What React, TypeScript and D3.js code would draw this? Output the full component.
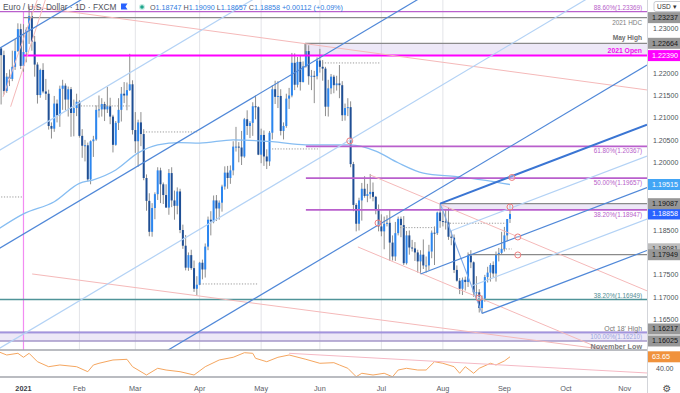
import React, { useRef, useEffect } from "react";
import * as d3 from "d3";

// EUR/USD daily candles (FXCM), [open, high, low, close]
type Candle = [number, number, number, number];

const dec2020: Candle[] = [
  [1.2196, 1.2273, 1.2190, 1.2266], [1.2266, 1.2272, 1.2223, 1.2255], [1.2255, 1.2257, 1.2130, 1.2240],
  [1.2240, 1.2250, 1.2152, 1.2160], [1.2160, 1.2200, 1.2156, 1.2192], [1.2192, 1.2208, 1.2171, 1.2187],
  [1.2187, 1.2250, 1.2182, 1.2214], [1.2214, 1.2276, 1.2207, 1.2249], [1.2249, 1.2311, 1.2247, 1.2298],
  [1.2298, 1.2310, 1.2209, 1.2216],
];
const jan2021: Candle[] = [
  [1.2216, 1.2309, 1.2203, 1.2247], [1.2247, 1.2302, 1.2224, 1.2297], [1.2297, 1.2349, 1.2265, 1.2327],
  [1.2327, 1.2338, 1.2250, 1.2270], [1.2270, 1.2283, 1.2192, 1.2219], [1.2219, 1.2224, 1.2132, 1.2151],
  [1.2151, 1.2210, 1.2145, 1.2207], [1.2207, 1.2222, 1.2155, 1.2159], [1.2159, 1.2187, 1.2140, 1.2154],
  [1.2154, 1.2163, 1.2074, 1.2082], [1.2082, 1.2090, 1.2054, 1.2076], [1.2076, 1.2149, 1.2069, 1.2132],
  [1.2132, 1.2141, 1.2090, 1.2106], [1.2106, 1.2172, 1.2080, 1.2165], [1.2165, 1.2185, 1.2118, 1.2172],
  [1.2172, 1.2177, 1.2117, 1.2141], [1.2141, 1.2170, 1.2103, 1.2164], [1.2164, 1.2169, 1.2058, 1.2111],
  [1.2111, 1.2141, 1.2059, 1.2122], [1.2122, 1.2154, 1.2104, 1.2136],
];
const feb2021: Candle[] = [
  [1.2136, 1.2140, 1.2056, 1.2060], [1.2060, 1.2075, 1.2011, 1.2038], [1.2038, 1.2051, 1.2003, 1.2039],
  [1.2039, 1.2045, 1.1958, 1.1963], [1.1963, 1.2050, 1.1952, 1.2048], [1.2048, 1.2060, 1.2013, 1.2052],
  [1.2052, 1.2128, 1.2049, 1.2118], [1.2118, 1.2150, 1.2101, 1.2119], [1.2119, 1.2144, 1.2103, 1.2131],
  [1.2131, 1.2136, 1.2093, 1.2119], [1.2119, 1.2169, 1.2111, 1.2126], [1.2126, 1.2145, 1.2086, 1.2103],
  [1.2103, 1.2107, 1.2023, 1.2040], [1.2040, 1.2093, 1.2038, 1.2089], [1.2089, 1.2144, 1.2073, 1.2118],
  [1.2118, 1.2169, 1.2092, 1.2154], [1.2154, 1.2180, 1.2133, 1.2150], [1.2150, 1.2179, 1.2117, 1.2162],
  [1.2162, 1.2243, 1.2160, 1.2175], [1.2175, 1.2184, 1.2063, 1.2073],
];
const mar2021: Candle[] = [
  [1.2073, 1.2113, 1.2022, 1.2048], [1.2048, 1.2096, 1.1991, 1.2090], [1.2090, 1.2113, 1.2037, 1.2064],
  [1.2064, 1.2075, 1.1961, 1.1966], [1.1966, 1.1974, 1.1893, 1.1915], [1.1915, 1.1932, 1.1836, 1.1846],
  [1.1846, 1.1910, 1.1835, 1.1899], [1.1899, 1.1934, 1.1874, 1.1930], [1.1930, 1.1990, 1.1917, 1.1983],
  [1.1983, 1.1989, 1.1910, 1.1952], [1.1952, 1.1956, 1.1908, 1.1928], [1.1928, 1.1952, 1.1900, 1.1900],
  [1.1900, 1.1986, 1.1884, 1.1977], [1.1977, 1.1990, 1.1901, 1.1916], [1.1916, 1.1938, 1.1873, 1.1904],
  [1.1904, 1.1945, 1.1885, 1.1936], [1.1936, 1.1942, 1.1843, 1.1850], [1.1850, 1.1862, 1.1808, 1.1815],
  [1.1815, 1.1839, 1.1760, 1.1766], [1.1766, 1.1800, 1.1759, 1.1794], [1.1794, 1.1806, 1.1761, 1.1765],
  [1.1765, 1.1782, 1.1712, 1.1719], [1.1719, 1.1747, 1.1704, 1.1728],
];
const apr2021: Candle[] = [
  [1.1728, 1.1779, 1.1727, 1.1777], [1.1777, 1.1784, 1.1740, 1.1762], [1.1762, 1.1820, 1.1744, 1.1813],
  [1.1813, 1.1880, 1.1805, 1.1873], [1.1873, 1.1892, 1.1838, 1.1869], [1.1869, 1.1927, 1.1865, 1.1916],
  [1.1916, 1.1928, 1.1870, 1.1898], [1.1898, 1.1916, 1.1873, 1.1911], [1.1911, 1.1951, 1.1891, 1.1947],
  [1.1947, 1.1992, 1.1940, 1.1978], [1.1978, 1.1993, 1.1942, 1.1966], [1.1966, 1.1994, 1.1953, 1.1983],
  [1.1983, 1.2048, 1.1972, 1.2036], [1.2036, 1.2080, 1.2025, 1.2036], [1.2036, 1.2046, 1.2001, 1.2034],
  [1.2034, 1.2071, 1.1995, 1.2014], [1.2014, 1.2100, 1.2011, 1.2097], [1.2097, 1.2117, 1.2062, 1.2082],
  [1.2082, 1.2093, 1.2055, 1.2089], [1.2089, 1.2135, 1.2060, 1.2126], [1.2126, 1.2150, 1.2097, 1.2124],
  [1.2124, 1.2126, 1.2017, 1.2018],
];
const may2021: Candle[] = [
  [1.2018, 1.2076, 1.1999, 1.2062], [1.2062, 1.2072, 1.1993, 1.2014], [1.2014, 1.2030, 1.1986, 1.2003],
  [1.2003, 1.2071, 1.1993, 1.2067], [1.2067, 1.2173, 1.2052, 1.2164], [1.2164, 1.2183, 1.2131, 1.2147],
  [1.2147, 1.2182, 1.2122, 1.2149], [1.2149, 1.2164, 1.2061, 1.2071], [1.2071, 1.2090, 1.2052, 1.2082],
  [1.2082, 1.2154, 1.2078, 1.2143], [1.2143, 1.2167, 1.2120, 1.2150], [1.2150, 1.2245, 1.2146, 1.2223],
  [1.2223, 1.2244, 1.2162, 1.2174], [1.2174, 1.2236, 1.2168, 1.2225], [1.2225, 1.2238, 1.2161, 1.2180],
  [1.2180, 1.2226, 1.2179, 1.2215], [1.2215, 1.2266, 1.2212, 1.2249], [1.2249, 1.2262, 1.2174, 1.2193],
  [1.2193, 1.2207, 1.2162, 1.2194], [1.2194, 1.2205, 1.2133, 1.2193], [1.2193, 1.2235, 1.2186, 1.2228],
];
const jun2021: Candle[] = [
  [1.2228, 1.2254, 1.2201, 1.2214], [1.2214, 1.2229, 1.2183, 1.2210], [1.2210, 1.2214, 1.2104, 1.2125],
  [1.2125, 1.2185, 1.2103, 1.2166], [1.2166, 1.2198, 1.2153, 1.2192], [1.2192, 1.2196, 1.2155, 1.2173],
  [1.2173, 1.2194, 1.2161, 1.2177], [1.2177, 1.2218, 1.2144, 1.2173], [1.2173, 1.2182, 1.2093, 1.2106],
  [1.2106, 1.2132, 1.2094, 1.2122], [1.2122, 1.2144, 1.2104, 1.2124], [1.2124, 1.2137, 1.1990, 1.1997],
  [1.1997, 1.2002, 1.1892, 1.1906], [1.1906, 1.1910, 1.1847, 1.1864], [1.1864, 1.1922, 1.1849, 1.1916],
  [1.1916, 1.1955, 1.1871, 1.1942], [1.1942, 1.1970, 1.1922, 1.1926], [1.1926, 1.1953, 1.1912, 1.1930],
  [1.1930, 1.1975, 1.1920, 1.1935], [1.1935, 1.1956, 1.1914, 1.1924], [1.1924, 1.1926, 1.1885, 1.1895],
  [1.1895, 1.1907, 1.1847, 1.1858],
];
const jul2021: Candle[] = [
  [1.1858, 1.1885, 1.1836, 1.1847], [1.1847, 1.1880, 1.1807, 1.1864], [1.1864, 1.1883, 1.1858, 1.1866],
  [1.1866, 1.1895, 1.1781, 1.1822], [1.1822, 1.1838, 1.1782, 1.1791], [1.1791, 1.1868, 1.1781, 1.1843],
  [1.1843, 1.1880, 1.1838, 1.1875], [1.1875, 1.1880, 1.1834, 1.1861], [1.1861, 1.1881, 1.1772, 1.1776],
  [1.1776, 1.1848, 1.1773, 1.1838], [1.1838, 1.1849, 1.1795, 1.1811], [1.1811, 1.1828, 1.1802, 1.1809],
  [1.1809, 1.1823, 1.1781, 1.1800], [1.1800, 1.1806, 1.1755, 1.1780], [1.1780, 1.1805, 1.1752, 1.1795],
  [1.1795, 1.1829, 1.1763, 1.1771], [1.1771, 1.1791, 1.1755, 1.1771], [1.1771, 1.1817, 1.1760, 1.1802],
  [1.1802, 1.1849, 1.1787, 1.1844], [1.1844, 1.1858, 1.1772, 1.1843], [1.1843, 1.1891, 1.1839, 1.1889],
  [1.1889, 1.1909, 1.1855, 1.1870],
];
const aug2021: Candle[] = [
  [1.1870, 1.1892, 1.1858, 1.1869], [1.1869, 1.1896, 1.1851, 1.1867], [1.1867, 1.1900, 1.1828, 1.1835],
  [1.1835, 1.1849, 1.1816, 1.1833], [1.1833, 1.1840, 1.1754, 1.1761], [1.1761, 1.1771, 1.1735, 1.1737],
  [1.1737, 1.1743, 1.1707, 1.1719], [1.1719, 1.1744, 1.1705, 1.1739], [1.1739, 1.1746, 1.1715, 1.1734],
  [1.1734, 1.1800, 1.1723, 1.1793], [1.1793, 1.1805, 1.1765, 1.1778], [1.1778, 1.1780, 1.1701, 1.1711],
  [1.1711, 1.1747, 1.1695, 1.1711], [1.1711, 1.1718, 1.1666, 1.1676], [1.1676, 1.1704, 1.1664, 1.1697],
  [1.1697, 1.1750, 1.1690, 1.1745], [1.1745, 1.1768, 1.1733, 1.1755], [1.1755, 1.1776, 1.1735, 1.1772],
  [1.1772, 1.1780, 1.1745, 1.1753], [1.1753, 1.1802, 1.1735, 1.1795], [1.1795, 1.1810, 1.1780, 1.1799],
  [1.1799, 1.1846, 1.1796, 1.1808],
];
const sep2021: Candle[] = [
  [1.1808, 1.1857, 1.1802, 1.1838], [1.1838, 1.1873, 1.1825, 1.18746], [1.18747, 1.1909, 1.18657, 1.18858],
];

// 100-day moving average, [bar, price] (bar 0 = 4 Jan 2021)
const ma100: [number, number][] = [
  [-9, 1.1852], [0, 1.1886], [11, 1.1913], [20, 1.1954], [25, 1.1962], [33, 1.1984], [41, 1.2022],
  [48, 1.2040], [56, 1.2045], [63, 1.2044], [75, 1.2051], [89, 1.2047], [101, 1.2040], [117, 1.2040],
  [126, 1.2026], [134, 1.2000], [143, 1.1977], [155, 1.1969], [164, 1.1962], [174, 1.19515],
];

// RSI(14), [bar, value]
const rsi: [number, number][] = [
  [-9, 73.7], [-6, 67.2], [-2, 70.5], [0, 62.7], [2, 70.5], [5, 54.0], [9, 44.2], [13, 47.6], [19, 44.2],
  [23, 34.4], [25, 47.6], [27, 50.9], [32, 57.4], [37, 58.7], [39, 44.2], [44, 27.9], [48, 41.1], [51, 37.7],
  [56, 34.4], [61, 27.9], [65, 44.2], [70, 57.4], [75, 62.7], [79, 71.7], [82, 70.5], [83, 60.7], [87, 54.0],
  [91, 62.7], [95, 67.2], [101, 58.7], [106, 50.9], [111, 52.1], [113, 47.6], [116, 41.1], [119, 24.6],
  [121, 31.3], [125, 27.9], [129, 31.3], [132, 24.4], [134, 37.7], [137, 41.1], [141, 37.7], [144, 37.7],
  [147, 54.0], [150, 50.9], [154, 44.2], [156, 31.3], [158, 44.2], [161, 31.3], [163, 41.1], [167, 50.9],
  [169, 47.6], [172, 55.5], [174, 63.65],
];
const rsiTrend: [number, number][] = [[95, 70.5], [223, 31.9]];

const monthLabels = ["2021", "Feb", "Mar", "Apr", "May", "Jun", "Jul", "Aug", "Sep", "Oct", "Nov"];
const monthStartBar = [0, 20, 40, 63, 85, 106, 128, 150, 172, 194, 215];

const fibLevels = [
  { label: "88.60%(1.23369)", price: 1.23369, fromBar: -9 },
  { label: "61.80%(1.20367)", price: 1.20367, fromBar: 101 },
  { label: "50.00%(1.19657)", price: 1.19657, fromBar: 101 },
  { label: "38.20%(1.18947)", price: 1.18947, fromBar: 101 },
];
const fibLow = { label: "38.20%(1.16949)", price: 1.16949 };
const fibFull = { label: "100.00%(1.16210)", price: 1.1621 };

const grayLevels = [
  { label: "2021 HDC", price: 1.23237, fromBar: 0 },
  { label: "May High", price: 1.22664, fromBar: 100.7 },
  { label: "", price: 1.19087, fromBar: 149 },
  { label: "", price: 1.17949, fromBar: 159 },
];
const yearOpen = { label: "2021 Open", price: 1.2239, fromBar: 0 };
const octHigh = { label: "Oct 18' High", price: 1.16217 };
const novLow = { label: "November Low", price: 1.16025 };

// shaded zones: [fromBar, top, bottom]
const zones: [number, number, number][] = [
  [100.7, 1.22664, 1.2239],
  [149, 1.19087, 1.18947],
  [-9, 1.16217, 1.16025],
];

// dotted previous-close markers: [fromBar, toBar, price]
const dottedLevels: [number, number, number][] = [
  [-9, -0.5, 1.19237], [19.5, 38.1, 1.21267], [42.8, 62.1, 1.20687], [63.1, 83.9, 1.17297],
  [88.9, 105.3, 1.20308], [106.8, 127.5, 1.22226], [134.7, 147.9, 1.18553], [152.5, 172.9, 1.18651],
  [171.5, 174.7, 1.18077],
];

// long pitchfork lines (infinite), [bar, price] pairs
const bigFork = [
  { a: [0, 1.22871], b: [100, 1.26581], kind: "mid" },
  { a: [0, 1.20596], b: [100, 1.24306], kind: "light" },
  { a: [0, 1.1841], b: [100, 1.2212], kind: "mid" },
  { a: [0, 1.16179], b: [100, 1.19889], kind: "light" },
  { a: [0, 1.13904], b: [100, 1.17614], kind: "mid" },
];
// Andrews pitchfork pivots: Jul 21 low, Jul 30 high, Aug 20 low
const forkPivots: [number, number][] = [[142, 1.1752], [149, 1.1909], [164, 1.1664]];

const redLines = [
  { a: [2, 1.2349], b: [223, 1.21624] },
  { a: [-7.3, 1.2147], b: [4.9, 1.2363] },
  { a: [-4.6, 1.2125], b: [7.8, 1.2363] },
  { a: [124, 1.19728], b: [223, 1.17144] },
  { a: [119.6, 1.18122], b: [223, 1.15423] },
  { a: [3.1, 1.1752], b: [223, 1.1571] },
];

const circles: [number, number][] = [
  [116.7, 1.20487], [126.8, 1.18657], [162.9, 1.16985], [174, 1.19014],
  [174.7, 1.19672], [176.8, 1.18345], [176.8, 1.17944],
];

const priceTags = [
  { text: "1.18081", price: 1.18081, kind: "faint" },
  { text: "1.23237", price: 1.23237, kind: "level" },
  { text: "1.22664", price: 1.22664, kind: "level" },
  { text: "1.22390", price: 1.2239, kind: "open" },
  { text: "1.19515", price: 1.19515, kind: "ma" },
  { text: "1.19087", price: 1.19087, kind: "level" },
  { text: "1.18858", price: 1.18858, kind: "last" },
  { text: "1.17949", price: 1.17949, kind: "level" },
  { text: "1.16217", price: 1.16217, kind: "level" },
  { text: "1.16025", price: 1.16025, kind: "level" },
];
const rsiLast = 63.65;

const W = 680;
const H = 393;
const PANE_RIGHT = 647;
const PANE_BOTTOM = 350;
const RSI_TOP = 350;
const RSI_BOTTOM = 377;
const FONT = "'Liberation Sans', Arial, sans-serif";

const tagStyle: Record<string, { bg: string; fg: string }> = {
  level: { bg: "#979797", fg: "#161616" },
  faint: { bg: "#bdbdbd", fg: "#333" },
  open: { bg: "#ff00ff", fg: "#fff" },
  ma: { bg: "#42a5f5", fg: "#fff" },
  last: { bg: "#2962ff", fg: "#fff" },
};
const lineStyle: Record<string, { stroke: string; width: number }> = {
  mid: { stroke: "#5088d8", width: 1.2 },
  bold: { stroke: "#3a75d3", width: 2 },
  light: { stroke: "#b3d2f5", width: 1.2 },
};

export default function App() {
  const svgRef = useRef<SVGSVGElement>(null);

  useEffect(() => {
    if (!svgRef.current) return;
    const svg = d3.select(svgRef.current);
    svg.selectAll("*").remove();

    const candles = [dec2020, jan2021, feb2021, mar2021, apr2021, may2021, jun2021, jul2021, aug2021, sep2021]
      .flat()
      .map((c, k) => ({ bar: k - dec2020.length, open: c[0], high: c[1], low: c[2], close: c[3] }));

    const x = d3.scaleLinear().domain([-8.4, 223]).range([0, PANE_RIGHT]);
    const y = d3.scaleLinear().domain([1.15824, 1.2363]).range([PANE_BOTTOM, 0]);
    const yRsi = d3.scaleLinear().domain([24, 77]).range([RSI_BOTTOM, RSI_TOP]);
    const [barMin, barMax] = x.domain();

    svg.append("rect").attr("width", W).attr("height", H).attr("fill", "#fff");

    const defs = svg.append("defs");
    defs.append("clipPath").attr("id", "pane").append("rect").attr("width", PANE_RIGHT).attr("height", PANE_BOTTOM);
    defs.append("clipPath").attr("id", "rsiPane").append("rect")
      .attr("y", RSI_TOP).attr("width", PANE_RIGHT).attr("height", RSI_BOTTOM - RSI_TOP);

    const pane = svg.append("g").attr("clip-path", "url(#pane)");

    // month grid
    pane.selectAll(null).data(monthStartBar.slice(1, 8)).join("line")
      .attr("x1", (d) => x(d)).attr("x2", (d) => x(d))
      .attr("y1", 0).attr("y2", PANE_BOTTOM)
      .attr("stroke", "#e3e4e8").attr("stroke-width", 1);

    // zones
    pane.selectAll(null).data(zones).join("rect")
      .attr("x", (d) => x(Math.max(d[0], barMin)))
      .attr("y", (d) => y(d[1]))
      .attr("width", (d) => PANE_RIGHT - x(Math.max(d[0], barMin)))
      .attr("height", (d) => y(d[2]) - y(d[1]))
      .attr("fill", "rgba(149,117,205,0.17)");

    // 2021 start divider
    pane.append("line")
      .attr("x1", x(0)).attr("x2", x(0)).attr("y1", y(fibLevels[0].price)).attr("y2", PANE_BOTTOM)
      .attr("stroke", "#f28cf2").attr("stroke-width", 1.2);

    // candles
    const cg = pane.append("g");
    cg.selectAll(null).data(candles).join("line")
      .attr("x1", (d) => x(d.bar)).attr("x2", (d) => x(d.bar))
      .attr("y1", (d) => y(d.high)).attr("y2", (d) => y(d.low))
      .attr("stroke", "#8e8e8e").attr("stroke-width", 1);
    cg.selectAll(null).data(candles).join("rect")
      .attr("x", (d) => x(d.bar) - 1)
      .attr("width", 2)
      .attr("y", (d) => y(Math.max(d.open, d.close)))
      .attr("height", (d) => Math.max(1, Math.abs(y(d.open) - y(d.close))))
      .attr("fill", (d) => (d.close >= d.open ? "#2b86f0" : "#1f4f95"));

    // dotted markers
    pane.selectAll(null).data(dottedLevels).join("line")
      .attr("x1", (d) => x(d[0])).attr("x2", (d) => x(d[1]))
      .attr("y1", (d) => y(d[2])).attr("y2", (d) => y(d[2]))
      .attr("stroke", "#9a9a9a").attr("stroke-width", 1).attr("stroke-dasharray", "1.2,1.6");

    // 100 MA
    const maLine = d3.line<[number, number]>().x((d) => x(d[0])).y((d) => y(d[1])).curve(d3.curveMonotoneX);
    pane.append("path").datum(ma100).attr("d", maLine)
      .attr("fill", "none").attr("stroke", "#86bdf2").attr("stroke-width", 1.3);

    // horizontal levels
    const hline = (price: number, from: number, stroke: string, width: number) =>
      pane.append("line")
        .attr("x1", x(Math.max(from, barMin))).attr("x2", PANE_RIGHT)
        .attr("y1", y(price)).attr("y2", y(price))
        .attr("stroke", stroke).attr("stroke-width", width);

    grayLevels.forEach((l) => hline(l.price, l.fromBar, "#8a8a8a", 1.3));
    pane.append("line")
      .attr("x1", x(zones[0][0])).attr("x2", x(zones[0][0]))
      .attr("y1", y(zones[0][1])).attr("y2", y(zones[0][2]))
      .attr("stroke", "#8a8a8a").attr("stroke-width", 1.3);
    fibLevels.forEach((l, k) => hline(l.price, l.fromBar, "#b95fcc", k === 0 ? 1.3 : 1.8));
    hline(fibLow.price, barMin, "#4f9499", 1.6);
    hline(octHigh.price, barMin, "#8f7bcf", 1.6);
    hline(fibFull.price, barMin, "#a79be0", 1);
    hline(novLow.price, barMin, "#a497c9", 1.3);
    hline(yearOpen.price, yearOpen.fromBar, "#ff00ff", 2);

    // trendlines
    const lineThrough = (a: number[], b: number[], from: number, to: number) => {
      const s = (b[1] - a[1]) / (b[0] - a[0]);
      return [[from, a[1] + s * (from - a[0])], [to, a[1] + s * (to - a[0])]];
    };
    const seg = (g: any, pts: number[][], stroke: string, width: number) =>
      g.append("line")
        .attr("x1", x(pts[0][0])).attr("y1", y(pts[0][1]))
        .attr("x2", x(pts[1][0])).attr("y2", y(pts[1][1]))
        .attr("stroke", stroke).attr("stroke-width", width);

    redLines.forEach((l) => seg(pane, lineThrough(l.a, l.b, l.a[0], barMax), "#f5b9b9", 1));

    bigFork.forEach((l) => {
      const st = lineStyle[l.kind];
      seg(pane, lineThrough(l.a, l.b, barMin - 10, barMax), st.stroke, st.width);
    });

    const [p0, p1, p2] = forkPivots;
    const mid: [number, number] = [(p1[0] + p2[0]) / 2, (p1[1] + p2[1]) / 2];
    const slope = (mid[1] - p0[1]) / (mid[0] - p0[0]);
    const ray = (from: number[], kind: string) => {
      const st = lineStyle[kind];
      seg(pane, [from, [barMax, from[1] + slope * (barMax - from[0])]], st.stroke, st.width);
    };
    seg(pane, [p1, p2], "#7fa9e6", 1.1);
    ray([(p1[0] + mid[0]) / 2, (p1[1] + mid[1]) / 2], "light");
    ray([(mid[0] + p2[0]) / 2, (mid[1] + p2[1]) / 2], "light");
    ray(p0, "mid");
    ray(p2, "mid");
    ray(p1, "bold");

    // circles
    pane.selectAll(null).data(circles).join("circle")
      .attr("cx", (d) => x(d[0])).attr("cy", (d) => y(d[1])).attr("r", 3)
      .attr("fill", "rgba(255,255,255,0.3)").attr("stroke", "#ef7f7f").attr("stroke-width", 1);

    // level labels
    const label = (text: string, yy: number, fill: string, size: number, bold = false) =>
      svg.append("text")
        .attr("x", PANE_RIGHT - 5).attr("y", yy)
        .attr("text-anchor", "end")
        .attr("font-family", FONT).attr("font-size", size)
        .attr("font-weight", bold ? "bold" : "normal")
        .attr("fill", fill).text(text);

    fibLevels.forEach((l, k) =>
      label(l.label, k === 0 ? y(l.price) - 2.2 : y(l.price) + 6.6, "#b660c9", 6.3));
    label(grayLevels[0].label, y(grayLevels[0].price) + 7, "#7d7d7d", 6.4);
    label(grayLevels[1].label, y(grayLevels[1].price) - 3, "#6e6e6e", 6.6, true);
    label(yearOpen.label, y(yearOpen.price) - 2.8, "#f010f0", 6.8, true);
    label(fibLow.label, y(fibLow.price) - 2, "#4f8c93", 6.3);
    label(octHigh.label, y(octHigh.price) - 1.8, "#767676", 6.9);
    label(fibFull.label, y(fibFull.price) + 6.8, "#9aa4de", 6.3);
    label(novLow.label, y(novLow.price) + 8.4, "#7a7a7a", 7.2, true);

    // RSI pane
    const rsiG = svg.append("g").attr("clip-path", "url(#rsiPane)");
    const rsiLine = d3.line<[number, number]>().x((d) => x(d[0])).y((d) => yRsi(d[1]));
    rsiG.append("path").datum(rsi).attr("d", rsiLine)
      .attr("fill", "none").attr("stroke", "#f5a65f").attr("stroke-width", 1);
    const rt = lineThrough(rsiTrend[0], rsiTrend[1], rsiTrend[0][0], barMax);
    rsiG.append("line")
      .attr("x1", x(rt[0][0])).attr("y1", yRsi(rt[0][1]))
      .attr("x2", x(rt[1][0])).attr("y2", yRsi(rt[1][1]))
      .attr("stroke", "#f5b9c4").attr("stroke-width", 1);

    // pane borders
    [PANE_BOTTOM, RSI_BOTTOM].forEach((yy) =>
      svg.append("line").attr("x1", 0).attr("x2", PANE_RIGHT).attr("y1", yy).attr("y2", yy)
        .attr("stroke", "#a3a6ad").attr("stroke-width", 1.5));
    svg.append("line").attr("x1", PANE_RIGHT + 0.5).attr("x2", PANE_RIGHT + 0.5).attr("y1", 0).attr("y2", H)
      .attr("stroke", "#d3d5da").attr("stroke-width", 1);

    // price tags, nudged apart where they would collide (the faint one stays behind)
    const placed = priceTags.map((t) => ({ ...t, yy: y(t.price) }));
    const solid = placed.filter((t) => t.kind !== "faint").sort((a, b) => b.yy - a.yy);
    for (let k = 1; k < solid.length; k++) {
      if (solid[k - 1].yy - solid[k].yy < 9) solid[k].yy = solid[k - 1].yy - 12;
    }
    const tagYs = placed.map((t) => t.yy).concat([7]);

    // price axis (ticks hidden under a tag are not drawn)
    const ticks = d3.range(1.16, 1.2301, 0.005).filter((d) => tagYs.every((ty) => Math.abs(y(d) - ty) > 8));
    svg.selectAll(null).data(ticks).join("text")
      .attr("x", PANE_RIGHT + 6).attr("y", (d) => y(d) + 2.5)
      .attr("font-family", FONT).attr("font-size", 7).attr("fill", "#4c4f58")
      .text((d) => d.toFixed(5));
    svg.append("text")
      .attr("x", PANE_RIGHT + 9).attr("y", yRsi(40) + 2.5)
      .attr("font-family", FONT).attr("font-size", 7).attr("fill", "#4c4f58").text("40.00");

    const tag = (text: string, yy: number, bg: string, fg: string) => {
      svg.append("rect").attr("x", PANE_RIGHT + 1).attr("y", yy - 5.5).attr("width", W - PANE_RIGHT - 1).attr("height", 11)
        .attr("fill", bg);
      svg.append("text").attr("x", PANE_RIGHT + 5).attr("y", yy + 2.5)
        .attr("font-family", FONT).attr("font-size", 7.2).attr("fill", fg).text(text);
    };
    placed.filter((t) => t.kind === "faint").forEach((t) => tag(t.text, t.yy, tagStyle.faint.bg, tagStyle.faint.fg));
    solid.forEach((t) => tag(t.text, t.yy, tagStyle[t.kind].bg, tagStyle[t.kind].fg));
    tag(rsiLast.toFixed(2), yRsi(rsiLast), "#f0923c", "#fff");

    // currency box
    svg.append("rect").attr("x", PANE_RIGHT + 7).attr("y", 1.5).attr("width", 30).attr("height", 10).attr("rx", 2)
      .attr("fill", "#fff").attr("stroke", "#c9cbd1");
    svg.append("text").attr("x", PANE_RIGHT + 10).attr("y", 9)
      .attr("font-family", FONT).attr("font-size", 6.5).attr("fill", "#333").text("USD ▾");

    // time axis
    svg.selectAll(null).data(monthLabels).join("text")
      .attr("x", (_d, k) => x(monthStartBar[k]))
      .attr("y", 390.5)
      .attr("text-anchor", "middle")
      .attr("font-family", FONT).attr("font-size", 7.3)
      .attr("font-weight", (_d, k) => (k === 0 ? "bold" : "normal"))
      .attr("fill", (_d, k) => (k === 0 ? "#3a3d45" : "#5a5d66"))
      .text((d) => d);
    svg.append("text").attr("x", 667).attr("y", 392).attr("text-anchor", "middle")
      .attr("font-family", "'DejaVu Sans', sans-serif").attr("font-size", 10).attr("fill", "#555").text("⚙");

    // header
    svg.append("text").attr("x", 3).attr("y", 10)
      .attr("font-family", FONT).attr("font-size", 8.3).attr("fill", "#4f525b")
      .text("Euro / U.S. Dollar · 1D · FXCM");
    svg.append("path").attr("d", "M121,3.5 h6.5 l-2,3 l2,3 h-6.5 z").attr("fill", "#2962ff");
    svg.append("circle").attr("cx", 142).attr("cy", 7).attr("r", 3).attr("fill", "#c6ebe3");
    svg.append("circle").attr("cx", 142).attr("cy", 7).attr("r", 1.8).attr("fill", "#1fa58c");

    const last = sep2021[sep2021.length - 1];
    const prevClose = sep2021[sep2021.length - 2][3];
    const chg = last[3] - prevClose;
    const ohlc = svg.append("text").attr("x", 150).attr("y", 10)
      .attr("font-family", FONT).attr("font-size", 7.2);
    ["O", "H", "L", "C"].forEach((k, j) => {
      ohlc.append("tspan").attr("fill", "#4f525b").text((j ? " " : "") + k);
      ohlc.append("tspan").attr("fill", "#2f7ce0").text(last[j].toFixed(5));
    });
    ohlc.append("tspan").attr("fill", "#2f7ce0")
      .text(` +${chg.toFixed(5)} (+${((chg / prevClose) * 100).toFixed(2)}%)`);
  }, []);

  return (
    <div style={{ position: "absolute", left: 0, top: 0 }}>
      <svg ref={svgRef} width={W} height={H} style={{ display: "block" }} />
    </div>
  );
}
